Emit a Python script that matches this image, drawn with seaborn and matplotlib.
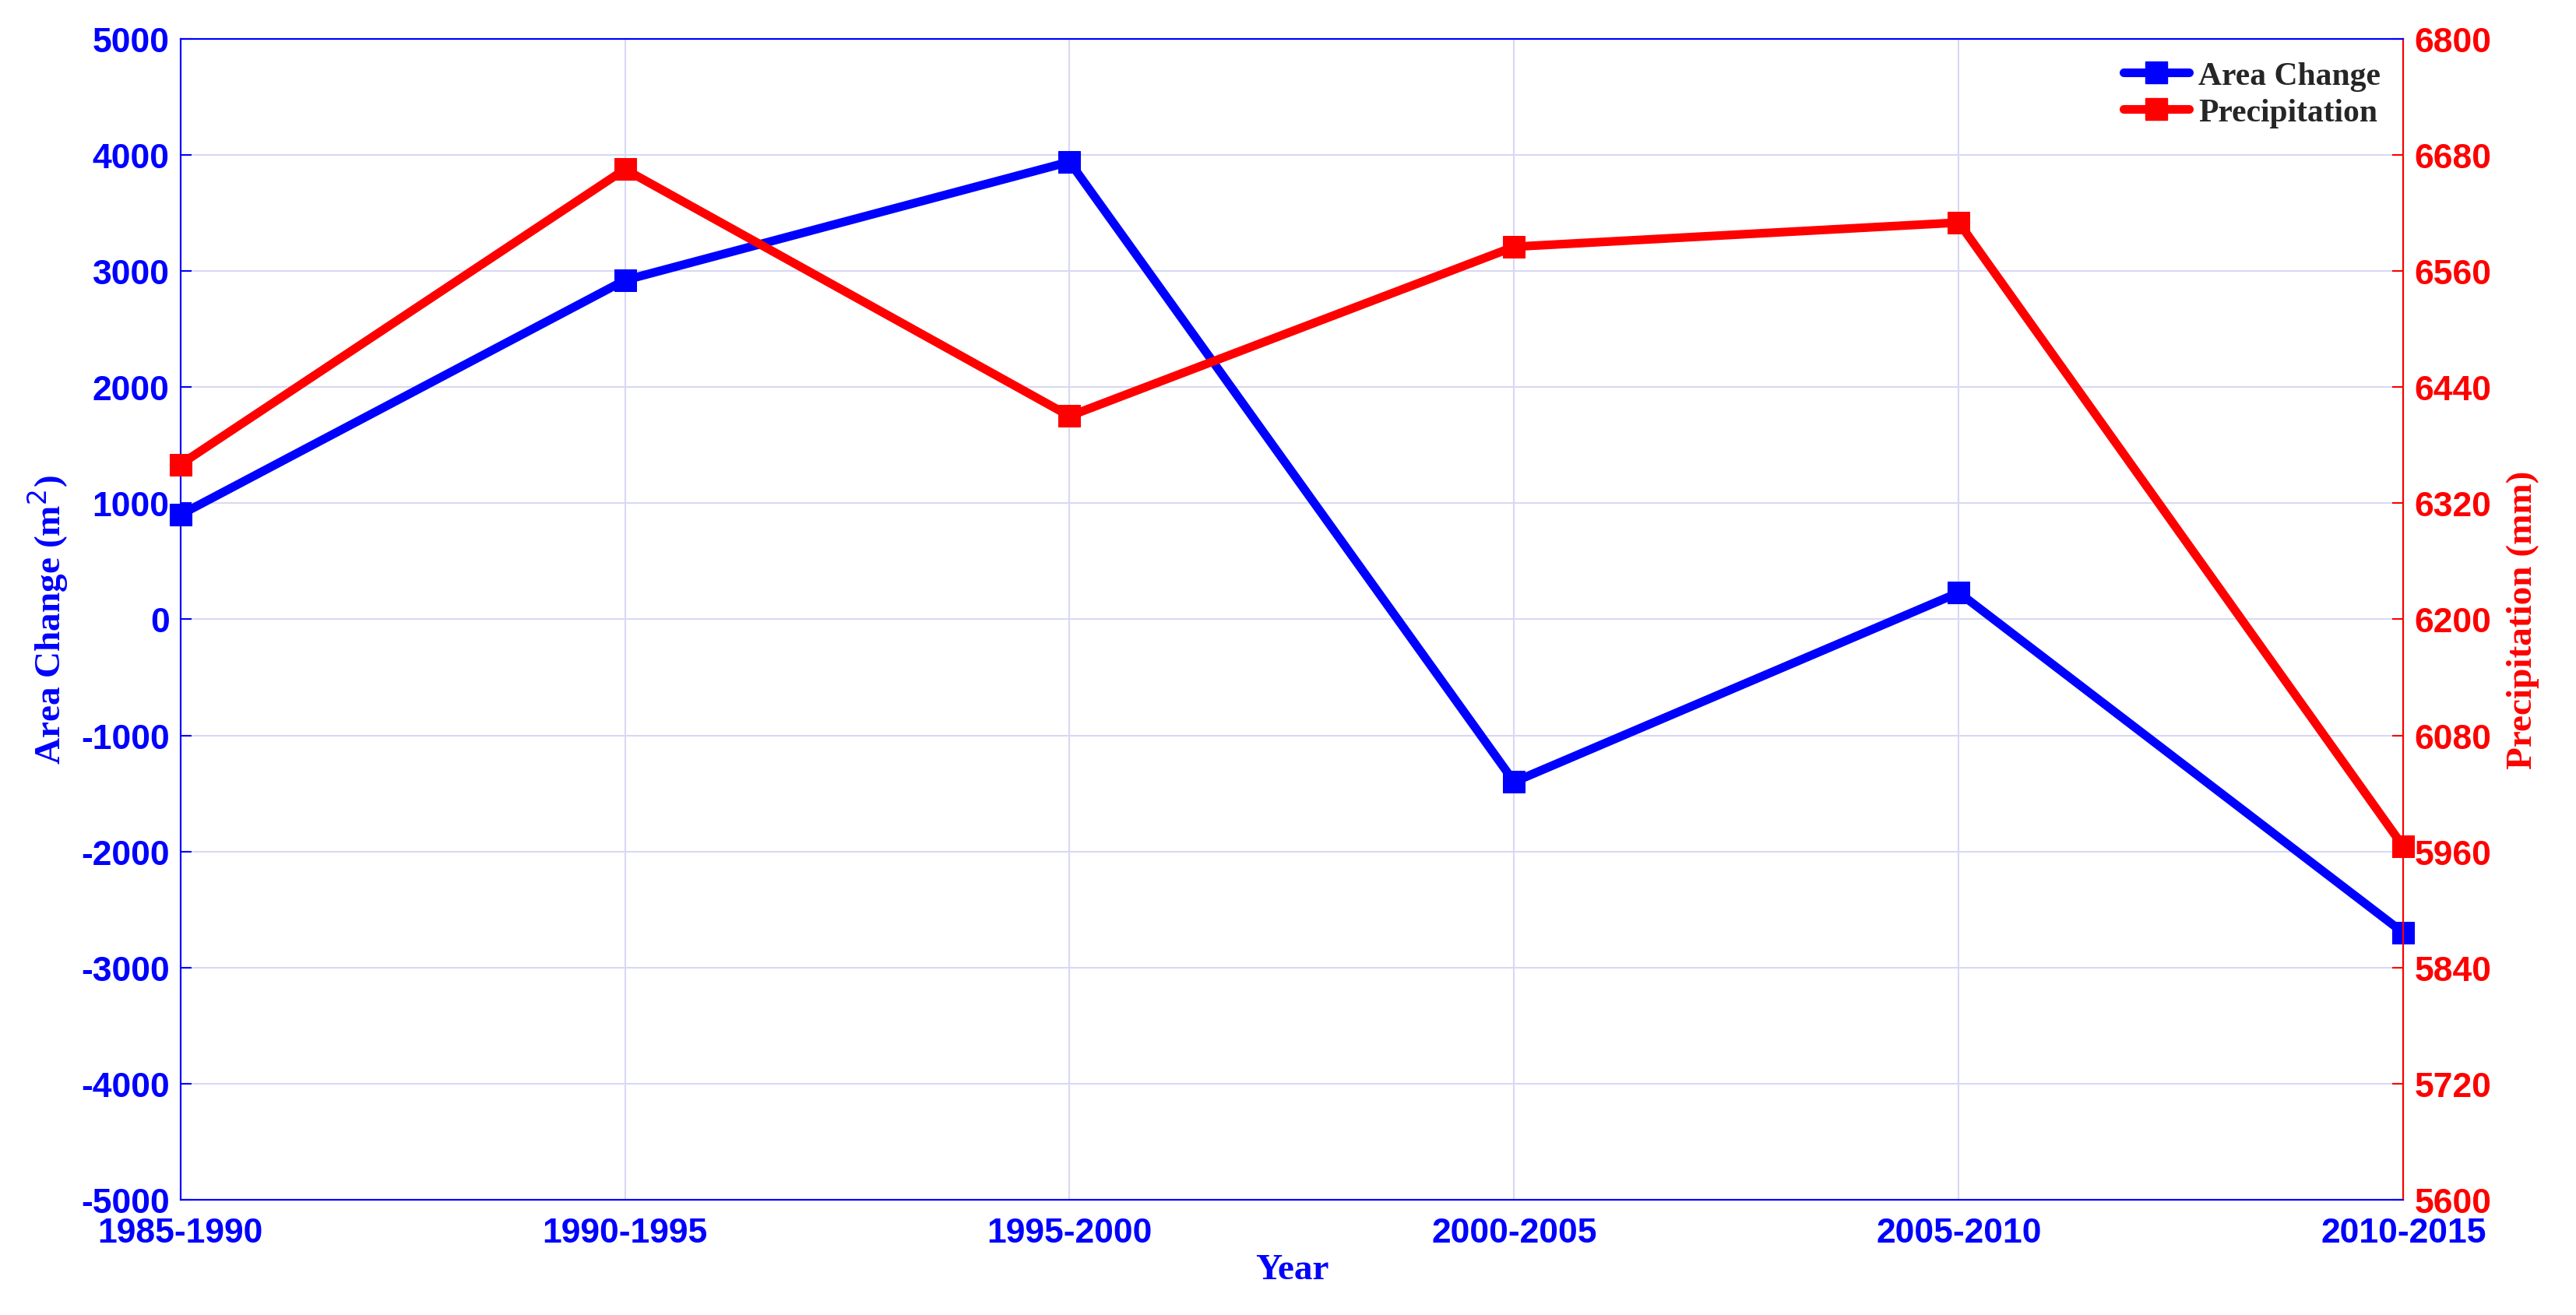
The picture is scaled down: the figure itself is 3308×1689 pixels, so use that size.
import matplotlib
matplotlib.use("Agg")
import matplotlib.pyplot as plt
import seaborn as sns
import pandas as pd
from matplotlib.lines import Line2D

periods = ["1985-1990", "1990-1995", "1995-2000", "2000-2005", "2005-2010", "2010-2015"]
area_change = [900, 2920, 3940, -1400, 230, -2700]
precipitation = [6360, 6665, 6410, 6585, 6610, 5965]

df = pd.DataFrame({"x": range(len(periods)), "area": area_change, "precip": precipitation})

sns.set_style("white")
blue, red = "#0000ff", "#ff0000"
tick_font = {"family": "Liberation Sans", "weight": "bold", "size": 32}
label_font = {"family": "Liberation Serif", "weight": "bold", "size": 34}

fig = plt.figure(figsize=(33.08, 16.90), dpi=100)
ax = fig.add_axes([0.070, 0.0875, 0.863, 0.8825])
ax2 = ax.twinx()

sns.lineplot(data=df, x="x", y="area", ax=ax, color=blue, lw=8, marker="s",
             markersize=20, markeredgecolor=blue, clip_on=False, zorder=5)
sns.lineplot(data=df, x="x", y="precip", ax=ax2, color=red, lw=8, marker="s",
             markersize=20, markeredgecolor=red, clip_on=False, zorder=5)

ax.set_xlim(0, len(periods) - 1)
ax.set_ylim(-5000, 5000)
ax.set_yticks(range(-5000, 5001, 1000))
ax2.set_ylim(5600, 6800)
ax2.set_yticks(range(5600, 6801, 120))
ax.set_xticks(range(len(periods)))
ax.set_xticklabels(periods, fontdict=tick_font, color=blue)
ax.set_yticklabels([str(v) for v in range(-5000, 5001, 1000)], fontdict=tick_font, color=blue)
ax2.set_yticklabels([str(v) for v in range(5600, 6801, 120)], fontdict=tick_font, color=red)

ax.grid(True, color="#d8d8f4", lw=1.5)
ax.set_xlabel("Year", fontdict=label_font, color=blue, labelpad=4)
ax.set_ylabel("Area Change (m$^2$)", fontdict=label_font, color=blue, labelpad=10)
ax2.set_ylabel("Precipitation (mm)", fontdict=label_font, color=red, labelpad=14)

for s in ["left", "bottom", "top"]:
    ax.spines[s].set_color(blue)
    ax2.spines[s].set_color(blue)
ax2.spines["right"].set_color(red)
for sp in list(ax.spines.values()) + list(ax2.spines.values()):
    sp.set_linewidth(1.5)
ax.tick_params(axis="x", colors=blue, length=10, width=1.5, direction="in", pad=16)
ax.tick_params(axis="y", colors=blue, length=10, width=1.5, direction="in", pad=10)
ax2.tick_params(axis="y", colors=red, length=10, width=1.5, direction="in", pad=10)

handles = [Line2D([], [], color=blue, lw=8, marker="s", markersize=20),
           Line2D([], [], color=red, lw=8, marker="s", markersize=20)]
ax.legend(handles, ["Area Change", "Precipitation"], loc="upper right", frameon=False,
          prop={"family": "Liberation Serif", "weight": "bold", "size": 30},
          handlelength=2, handletextpad=0.3, borderaxespad=0.3, labelspacing=0.2)

fig.savefig("out.png", dpi=100)
